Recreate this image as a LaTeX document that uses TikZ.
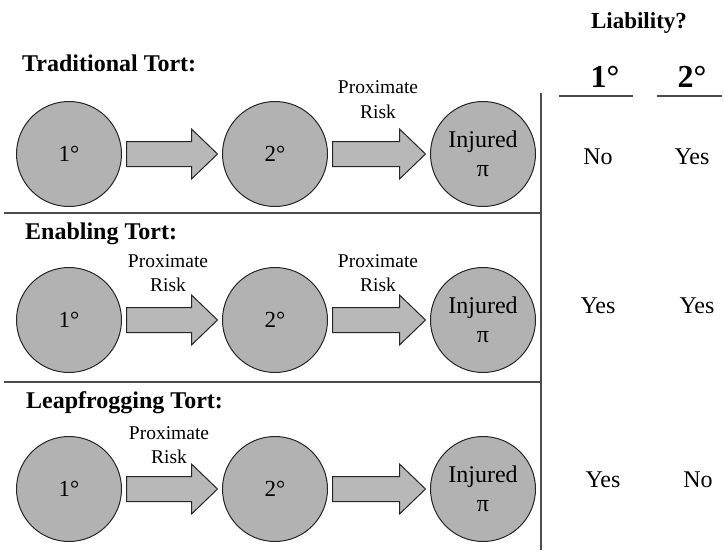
\documentclass[tikz,border=0pt]{standalone}
\usepackage{fontspec}
\setmainfont{Liberation Serif}
\usetikzlibrary{calc}
\tikzset{
  circ/.style={circle,draw=black!85,line width=1pt,fill=black!30,minimum size=105pt,inner sep=0pt,font=\fontsize{23}{25}\selectfont},
  injc/.style={circ,align=center,font=\fontsize{24}{29}\selectfont},
  blk/.style={draw=black!85,line width=1pt,fill=black!28,line join=miter},
  ttl/.style={anchor=base west,font=\bfseries\fontsize{24}{26}\selectfont,inner sep=0pt},
  risk/.style={anchor=base,font=\fontsize{19.5}{22}\selectfont,inner sep=0pt},
  ans/.style={anchor=base,font=\fontsize{24}{26}\selectfont,inner sep=0pt},
  hdr/.style={anchor=base,font=\bfseries\fontsize{32}{34}\selectfont,inner sep=0pt},
  sep/.style={draw=black!70,line width=1.1pt},
}
\newcommand\blkarrow[2]{%
  \draw[blk] ($(#1.east)+(4.5,12.5)$) -- ($(#2.west)+(-30.5,12.5)$) -- ($(#2.west)+(-30.5,25)$)
    -- ($(#2.west)+(-4.5,0)$) -- ($(#2.west)+(-30.5,-25)$) -- ($(#2.west)+(-30.5,-12.5)$)
    -- ($(#1.east)+(4.5,-12.5)$) -- cycle;}
\begin{document}
\begin{tikzpicture}[x=1pt,y=-1pt]
\useasboundingbox (0,0) rectangle (723,550);
% separators
\coordinate (s1l) at (4,213); \coordinate (s1r) at (541,213);
\coordinate (s2l) at (4,382); \coordinate (s2r) at (541,382);
\coordinate (vt) at (541,93); \coordinate (vb) at (541,550);
\coordinate (u1l) at (559,96); \coordinate (u1r) at (633,96);
\coordinate (u2l) at (657,96); \coordinate (u2r) at (722,96);
\draw[sep] (s1l) -- (s1r);
\draw[sep] (s2l) -- (s2r);
\draw[sep] (vt) -- (vb);
\draw[sep] (u1l) -- (u1r);
\draw[sep] (u2l) -- (u2r);
% titles
\node[ttl] (t1) at (22,71) {Traditional Tort:};
\node[ttl] (t2) at (25,239) {Enabling Tort:};
\node[ttl] (t3) at (26,408) {Leapfrogging Tort:};
% row 1
\node[circ] (a1) at (69,154) {1°};
\node[circ] (b1) at (275,154) {2°};
\node[injc] (c1) at (483,154) {Injured\\π};
\blkarrow{a1}{b1}
\blkarrow{b1}{c1}
\node[risk] (p1) at (378,93) {Proximate};
\node[risk] (r1) at (378,118) {Risk};
% row 2
\node[circ] (a2) at (69,320) {1°};
\node[circ] (b2) at (275,320) {2°};
\node[injc] (c2) at (483,320) {Injured\\π};
\blkarrow{a2}{b2}
\blkarrow{b2}{c2}
\node[risk] (p2) at (168,267) {Proximate};
\node[risk] (r2) at (168,291) {Risk};
\node[risk] (p3) at (378,267) {Proximate};
\node[risk] (r3) at (378,291) {Risk};
% row 3
\node[circ] (a3) at (69,489) {1°};
\node[circ] (b3) at (275,489) {2°};
\node[injc] (c3) at (483,489) {Injured\\π};
\blkarrow{a3}{b3}
\blkarrow{b3}{c3}
\node[risk] (p4) at (169,439) {Proximate};
\node[risk] (r4) at (169,463) {Risk};
% liability table
\node[anchor=base,font=\bfseries\fontsize{23}{25}\selectfont,inner sep=0pt] (lia) at (639,28) {Liability?};
\node[hdr] (h1) at (605,87) {1°};
\node[hdr] (h2) at (692,87) {2°};
\node[ans] (n11) at (598,164) {No};
\node[ans] (n12) at (692,164) {Yes};
\node[ans] (n21) at (598,313) {Yes};
\node[ans] (n22) at (697,313) {Yes};
\node[ans] (n31) at (603,487) {Yes};
\node[ans] (n32) at (698,487) {No};
\end{tikzpicture}
\end{document}
